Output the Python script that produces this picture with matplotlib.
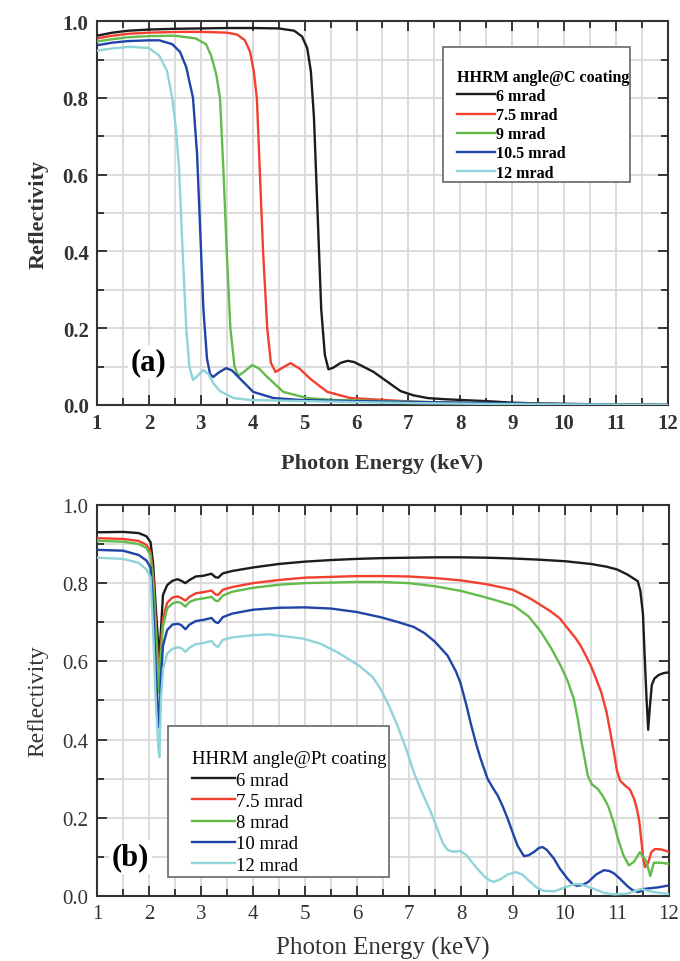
import numpy as np
import matplotlib
matplotlib.use('Agg')
import matplotlib.pyplot as plt
from matplotlib.patches import Rectangle
from matplotlib.ticker import MultipleLocator, FormatStrFormatter

plt.rcParams['font.family'] = ['Liberation Serif', 'DejaVu Serif']

#%% data, panel (a): C coating
c_labels = ['6 mrad', '7.5 mrad', '9 mrad', '10.5 mrad', '12 mrad']

c6_x = [1.0, 1.3, 1.6, 2.0, 2.5, 3.0, 3.5, 4.0, 4.5, 4.8, 4.95, 5.05, 5.12, 5.18, 5.25, 5.32, 5.39, 5.46,
        5.55, 5.7, 5.83, 5.95, 6.1, 6.33, 6.6, 6.85, 7.1, 7.37, 7.7, 8.0, 8.5, 9.0, 9.5, 10.0, 11.0, 12.0]
c6_y = [0.962, 0.970, 0.975, 0.978, 0.980, 0.981, 0.982, 0.982, 0.981, 0.975, 0.960, 0.930, 0.870, 0.750, 0.500,
        0.250, 0.130, 0.093, 0.097, 0.110, 0.115, 0.112, 0.102, 0.086, 0.060, 0.036, 0.025, 0.018, 0.015, 0.013,
        0.010, 0.006, 0.004, 0.003, 0.001, 0.0]

c75_x = [1.0, 1.3, 1.6, 2.0, 2.6, 3.0, 3.5, 3.7, 3.85, 3.95, 4.02, 4.08, 4.14, 4.2, 4.28, 4.35, 4.44,
         4.55, 4.73, 4.9, 5.11, 5.44, 5.88, 6.52, 7.18, 8.0, 9.0, 10.0, 12.0]
c75_y = [0.955, 0.962, 0.967, 0.970, 0.972, 0.972, 0.970, 0.965, 0.950, 0.920, 0.870, 0.800, 0.600, 0.400,
         0.200, 0.110, 0.086, 0.095, 0.109, 0.095, 0.068, 0.034, 0.018, 0.013, 0.008, 0.005, 0.003, 0.002, 0.0]

c9_x = [1.0, 1.3, 1.6, 2.0, 2.5, 2.9, 3.1, 3.2, 3.3, 3.37, 3.44, 3.5, 3.57, 3.65, 3.72, 3.82, 3.99,
        4.12, 4.28, 4.59, 5.05, 5.56, 6.5, 8.0, 10.0, 12.0]
c9_y = [0.947, 0.953, 0.958, 0.961, 0.962, 0.955, 0.940, 0.910, 0.860, 0.800, 0.600, 0.400, 0.200, 0.100,
        0.076, 0.085, 0.104, 0.095, 0.073, 0.034, 0.018, 0.013, 0.010, 0.006, 0.002, 0.0]

c105_x = [1.0, 1.3, 1.6, 2.0, 2.2, 2.45, 2.6, 2.72, 2.85, 2.93, 2.99, 3.05, 3.12, 3.18, 3.24, 3.35,
          3.49, 3.6, 3.76, 4.01, 4.4, 4.92, 6.0, 8.0, 10.0, 12.0]
c105_y = [0.937, 0.944, 0.948, 0.950, 0.950, 0.940, 0.920, 0.880, 0.800, 0.650, 0.450, 0.250, 0.120, 0.080,
          0.073, 0.085, 0.096, 0.090, 0.068, 0.034, 0.018, 0.013, 0.010, 0.006, 0.002, 0.0]

c12_x = [1.0, 1.3, 1.64, 2.0, 2.2, 2.35, 2.45, 2.52, 2.58, 2.65, 2.72, 2.78, 2.85, 2.93, 3.05, 3.15,
         3.25, 3.37, 3.63, 3.95, 5.0, 7.0, 9.0, 12.0]
c12_y = [0.923, 0.929, 0.933, 0.930, 0.910, 0.870, 0.800, 0.720, 0.620, 0.400, 0.200, 0.100, 0.065, 0.075,
         0.091, 0.080, 0.055, 0.036, 0.018, 0.013, 0.010, 0.005, 0.002, 0.0]

#%% data, panel (b): Pt coating
pt_labels = ['6 mrad', '7.5 mrad', '8 mrad', '10 mrad', '12 mrad']

# shared x for the low-energy part (edge near 2.2 keV)
pt_lo_x = [1.0, 1.5, 1.8, 1.95, 2.03, 2.08, 2.13, 2.18, 2.2, 2.23, 2.27, 2.35, 2.45, 2.55, 2.62, 2.7,
           2.78, 2.9, 3.05, 3.2, 3.28, 3.33, 3.42, 3.6, 4.0]

p6_x = pt_lo_x + [4.5, 5.0, 5.5, 6.0, 6.5, 7.0, 7.5, 8.0, 8.5, 9.0, 9.5, 10.0, 10.5, 10.8, 11.0, 11.2,
                  11.4, 11.45, 11.5, 11.53, 11.57, 11.6, 11.63, 11.67, 11.72, 11.8, 11.9, 12.0]
p6_y = [0.930, 0.931, 0.928, 0.920, 0.905, 0.850, 0.740, 0.640, 0.612, 0.680, 0.770, 0.795, 0.806, 0.810,
        0.806, 0.800, 0.808, 0.817, 0.819, 0.824, 0.815, 0.814, 0.825, 0.831, 0.840,
        0.849, 0.855, 0.859, 0.862, 0.864, 0.865, 0.866, 0.866, 0.865, 0.863, 0.860, 0.856, 0.849, 0.842,
        0.835, 0.822, 0.805, 0.780, 0.720, 0.620, 0.500, 0.425, 0.480, 0.540, 0.556, 0.565, 0.570, 0.572]

p75_x = pt_lo_x + [4.5, 5.0, 6.0, 6.5, 7.0, 7.5, 8.0, 8.5, 9.0, 9.34, 9.7, 9.9, 10.06, 10.2, 10.3, 10.4,
                   10.5, 10.6, 10.7, 10.8, 10.87, 10.94, 11.0, 11.06, 11.15, 11.25, 11.33, 11.38, 11.43,
                   11.47, 11.51, 11.54, 11.6, 11.66, 11.73, 11.85, 12.0]
p75_y = [0.915, 0.913, 0.908, 0.898, 0.880, 0.820, 0.700, 0.580, 0.550, 0.640, 0.710, 0.750, 0.763, 0.766,
         0.762, 0.755, 0.765, 0.774, 0.777, 0.781, 0.771, 0.770, 0.783, 0.790, 0.800,
         0.808, 0.814, 0.818, 0.818, 0.817, 0.813, 0.807, 0.797, 0.783, 0.760, 0.730, 0.710, 0.683, 0.660,
         0.640, 0.615, 0.588, 0.555, 0.520, 0.470, 0.420, 0.368, 0.320, 0.295, 0.283, 0.272, 0.248, 0.225,
         0.190, 0.140, 0.090, 0.074, 0.085, 0.112, 0.120, 0.119, 0.113]

p8_x = pt_lo_x + [4.5, 5.0, 6.0, 6.45, 7.0, 7.5, 8.0, 8.38, 8.7, 9.02, 9.3, 9.54, 9.75, 9.92, 10.05,
                  10.17, 10.25, 10.31, 10.38, 10.44, 10.52, 10.63, 10.73, 10.83, 10.93, 11.02, 11.12,
                  11.23, 11.33, 11.44, 11.5, 11.56, 11.64, 11.71, 11.85, 12.0]
p8_y = [0.908, 0.906, 0.900, 0.890, 0.870, 0.800, 0.680, 0.560, 0.520, 0.620, 0.690, 0.735, 0.748, 0.752,
        0.749, 0.740, 0.752, 0.758, 0.761, 0.765, 0.755, 0.754, 0.768, 0.778, 0.788,
        0.796, 0.800, 0.803, 0.803, 0.800, 0.792, 0.780, 0.767, 0.755, 0.742, 0.715, 0.675, 0.630, 0.588,
        0.550, 0.504, 0.450, 0.400, 0.350, 0.307, 0.285, 0.274, 0.255, 0.230, 0.190, 0.146, 0.105, 0.078,
        0.088, 0.112, 0.100, 0.090, 0.051, 0.085, 0.085, 0.082]

p10_x = pt_lo_x + [4.5, 5.0, 5.5, 6.0, 6.45, 6.8, 7.09, 7.3, 7.5, 7.74, 7.9, 7.99, 8.1, 8.19, 8.3, 8.38,
                   8.51, 8.62, 8.71, 8.8, 8.9, 9.0, 9.09, 9.21, 9.3, 9.4, 9.5, 9.57, 9.65, 9.79, 9.9,
                   10.05, 10.15, 10.23, 10.33, 10.44, 10.6, 10.75, 10.85, 10.94, 11.05, 11.21, 11.3,
                   11.4, 11.46, 11.52, 11.79, 12.0]
p10_y = [0.885, 0.883, 0.872, 0.858, 0.840, 0.740, 0.580, 0.460, 0.430, 0.560, 0.640, 0.680, 0.694, 0.696,
         0.693, 0.682, 0.694, 0.703, 0.706, 0.711, 0.700, 0.698, 0.713, 0.722, 0.732,
         0.737, 0.738, 0.735, 0.726, 0.713, 0.700, 0.688, 0.672, 0.650, 0.615, 0.575, 0.545, 0.490, 0.440,
         0.385, 0.350, 0.300, 0.275, 0.256, 0.230, 0.197, 0.160, 0.128, 0.102, 0.104, 0.112, 0.123, 0.125,
         0.118, 0.095, 0.070, 0.044, 0.030, 0.026, 0.028, 0.035, 0.055, 0.066, 0.064, 0.058, 0.045, 0.024,
         0.015, 0.010, 0.012, 0.018, 0.022, 0.027]

p12_x = pt_lo_x + [4.3, 4.97, 5.3, 5.64, 6.05, 6.3, 6.45, 6.62, 6.78, 6.95, 7.09, 7.25, 7.42, 7.55, 7.65,
                   7.74, 7.85, 7.99, 8.1, 8.22, 8.32, 8.45, 8.55, 8.63, 8.75, 8.9, 9.05, 9.18, 9.3,
                   9.45, 9.59, 9.8, 10.0, 10.17, 10.3, 10.56, 10.75, 10.94, 11.2, 11.46, 11.7, 12.0]
p12_y = [0.865, 0.862, 0.852, 0.835, 0.815, 0.680, 0.500, 0.380, 0.355, 0.500, 0.580, 0.620, 0.632, 0.636,
         0.634, 0.624, 0.635, 0.644, 0.647, 0.652, 0.640, 0.637, 0.655, 0.661, 0.667,
         0.669, 0.658, 0.645, 0.622, 0.588, 0.560, 0.530, 0.485, 0.435, 0.375, 0.317, 0.265, 0.215, 0.170,
         0.135, 0.118, 0.113, 0.115, 0.105, 0.085, 0.069, 0.050, 0.040, 0.036, 0.042, 0.055, 0.061, 0.055,
         0.040, 0.022, 0.013, 0.012, 0.022, 0.030, 0.030, 0.018, 0.008, 0.004, 0.006, 0.018, 0.010, 0.005]

colors = ['#1c1c1c', '#f23f2e', '#63bb4c', '#1f43a6', '#8fd4d8']

#%% figure
fig = plt.figure(figsize=(6.8, 9.62), dpi=100)
ax_a = fig.add_axes([0.1426, 0.578, 0.8397, 0.399])
ax_b = fig.add_axes([0.1426, 0.0676, 0.8412, 0.4065])


def style_axes(ax, bold):
    w = 'bold' if bold else 'normal'
    ax.set_xlim(1, 12)
    ax.set_ylim(0, 1)
    ax.xaxis.set_major_locator(MultipleLocator(1))
    ax.xaxis.set_minor_locator(MultipleLocator(0.5))
    ax.yaxis.set_major_locator(MultipleLocator(0.2))
    ax.yaxis.set_minor_locator(MultipleLocator(0.1))
    ax.yaxis.set_major_formatter(FormatStrFormatter('%.1f'))
    ax.grid(True, which='both', color='#d9d9d9', lw=1.3, zorder=0)
    ax.set_axisbelow(True)
    ax.tick_params(which='both', direction='in', top=True, right=True, width=1.3, color='#2a2a2a')
    ax.tick_params(which='major', length=7, labelsize=15, pad=6)
    ax.tick_params(which='minor', length=5)
    for lab in ax.get_xticklabels() + ax.get_yticklabels():
        lab.set_fontweight(w)
        lab.set_color('#333333')
    for s in ax.spines.values():
        s.set_linewidth(1.5)
        s.set_color('#333333')


style_axes(ax_a, True)
style_axes(ax_b, False)

c_x = [c6_x, c75_x, c9_x, c105_x, c12_x]
c_y = [c6_y, c75_y, c9_y, c105_y, c12_y]
for xs, ys, col, lab in zip(c_x, c_y, colors, c_labels):
    ax_a.plot(xs, ys, color=col, lw=1.7, label=lab, zorder=3)

p_x = [p6_x, p75_x, p8_x, p10_x, p12_x]
p_y = [p6_y, p75_y, p8_y, p10_y, p12_y]
for xs, ys, col, lab in zip(p_x, p_y, colors, pt_labels):
    ax_b.plot(xs, ys, color=col, lw=1.7, label=lab, zorder=3)

ax_a.set_xlabel('Photon Energy (keV)', fontsize=16, fontweight='bold', color='#333333', labelpad=14)
ax_a.set_ylabel('Reflectivity', fontsize=16, fontweight='bold', color='#333333', labelpad=10)
ax_b.set_xlabel('Photon Energy (keV)', fontsize=18, color='#333333', labelpad=9)
ax_b.set_ylabel('Reflectivity', fontsize=17, color='#333333', labelpad=10)

# legend boxes drawn by hand, the text sits tight against the right edge
ax_a.add_patch(Rectangle((0.606, 0.581), 0.327, 0.351, transform=ax_a.transAxes, facecolor='white',
                         edgecolor='#666666', lw=1.2, zorder=4))
leg_a = ax_a.legend(title='HHRM angle@C coating', loc='upper left', bbox_to_anchor=(0.6305, 0.876),
                    frameon=False, handlelength=2.4, handletextpad=0.05, labelspacing=0.2,
                    borderpad=0, borderaxespad=0, prop={'weight': 'bold', 'size': 11.5})
leg_a._legend_box.align = 'left'
leg_a.get_title().set_fontsize(11.5)
leg_a.get_title().set_fontweight('bold')
leg_a.set_zorder(5)

ax_b.add_patch(Rectangle((0.124, 0.0486), 0.3865, 0.3864, transform=ax_b.transAxes, facecolor='white',
                         edgecolor='#666666', lw=1.2, zorder=4))
leg_b = ax_b.legend(title='HHRM angle@Pt coating', loc='upper left', bbox_to_anchor=(0.166, 0.372),
                    frameon=False, handlelength=2.3, handletextpad=0.05, labelspacing=0.22,
                    borderpad=0, borderaxespad=0, prop={'size': 13.5}, title_fontsize=13.5)
leg_b._legend_box.align = 'left'
leg_b.set_zorder(5)

ax_a.text(2.0, 0.112, '(a)', fontsize=22, fontweight='bold', ha='center', va='center', zorder=4,
          bbox=dict(facecolor='white', edgecolor='none', pad=2))
ax_b.text(1.64, 0.10, '(b)', fontsize=22, fontweight='bold', ha='center', va='center', zorder=4,
          bbox=dict(facecolor='white', edgecolor='none', pad=2))

fig.savefig('out.png', dpi=100)
